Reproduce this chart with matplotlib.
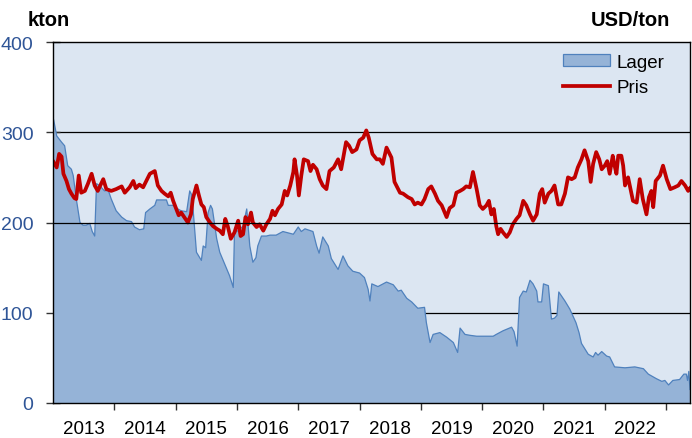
import matplotlib
matplotlib.use("Agg")
import matplotlib.pyplot as plt
from matplotlib.patches import Patch
from matplotlib.lines import Line2D
import numpy as np

plt.rcParams['font.family'] = ['Liberation Sans', 'DejaVu Sans']

# --- Data -------------------------------------------------------------
stock_t = [2013.00, 2013.01, 2013.06, 2013.14, 2013.19, 2013.24, 2013.30, 2013.33, 2013.38, 2013.44,
           2013.49, 2013.54, 2013.60, 2013.64, 2013.68, 2013.71, 2013.76, 2013.84, 2013.90, 2013.95,
           2014.03, 2014.12, 2014.20, 2014.28, 2014.33, 2014.41, 2014.48, 2014.51, 2014.58, 2014.66,
           2014.69, 2014.85, 2014.88, 2014.96, 2015.01, 2015.09, 2015.18, 2015.23, 2015.26, 2015.28,
           2015.34, 2015.42, 2015.45, 2015.49, 2015.53, 2015.57, 2015.60, 2015.67, 2015.72, 2015.80,
           2015.88, 2015.94, 2015.96, 2016.02, 2016.10, 2016.16, 2016.21, 2016.26, 2016.31, 2016.34,
           2016.40, 2016.48, 2016.54, 2016.64, 2016.75, 2016.92, 2017.00, 2017.05, 2017.11, 2017.24,
           2017.30, 2017.34, 2017.40, 2017.49, 2017.54, 2017.65, 2017.73, 2017.81, 2017.89, 2018.00,
           2018.08, 2018.14, 2018.17, 2018.20, 2018.30, 2018.44, 2018.55, 2018.63, 2018.68, 2018.77,
           2018.85, 2018.95, 2019.06, 2019.09, 2019.15, 2019.20, 2019.31, 2019.42, 2019.53, 2019.60,
           2019.64, 2019.72, 2019.80, 2019.91, 2020.01, 2020.18, 2020.23, 2020.34, 2020.48, 2020.52,
           2020.57, 2020.61, 2020.67, 2020.72, 2020.78, 2020.83, 2020.89, 2020.91, 2020.97, 2021.00,
           2021.08, 2021.13, 2021.18, 2021.22, 2021.25, 2021.35, 2021.43, 2021.53, 2021.58, 2021.62,
           2021.73, 2021.81, 2021.85, 2021.89, 2021.95, 2022.03, 2022.08, 2022.16, 2022.33, 2022.49,
           2022.63, 2022.71, 2022.84, 2022.93, 2022.98, 2023.04, 2023.11, 2023.22, 2023.29, 2023.33,
           2023.35, 2023.37, 2023.39]
stock_kton = [310, 314, 296, 289, 285, 263, 259, 252, 226, 200,
              197, 197, 199, 190, 185, 243, 241, 235, 236, 226,
              213, 206, 202, 201, 195, 192, 193, 211, 215, 219,
              225, 225, 219, 219, 216, 213, 212, 235, 231, 219,
              167, 158, 174, 172, 211, 219, 215, 182, 167, 154,
              141, 128, 189, 191, 196, 215, 174, 156, 161, 174,
              185, 185, 186, 186, 190, 187, 195, 190, 193, 190,
              174, 166, 184, 174, 160, 148, 163, 152, 146, 144,
              139, 126, 113, 132, 129, 134, 131, 124, 125, 116,
              112, 105, 106, 89, 67, 76, 78, 73, 67, 56,
              83, 76, 75, 74, 74, 74, 76, 80, 84, 79,
              63, 117, 124, 123, 136, 132, 124, 112, 112, 132,
              130, 93, 94, 97, 123, 113, 104, 89, 78, 66,
              54, 51, 56, 53, 57, 52, 51, 40, 39, 40,
              38, 32, 27, 24, 25, 20, 25, 26, 32, 32,
              25, 35, 15]

price_t = [2013.01, 2013.06, 2013.10, 2013.14, 2013.17, 2013.22, 2013.26, 2013.30, 2013.35, 2013.38,
           2013.42, 2013.46, 2013.52, 2013.57, 2013.63, 2013.68, 2013.73, 2013.82, 2013.87, 2013.95,
           2014.03, 2014.12, 2014.17, 2014.25, 2014.31, 2014.35, 2014.41, 2014.47, 2014.58, 2014.66,
           2014.71, 2014.77, 2014.82, 2014.88, 2014.92, 2014.96, 2015.01, 2015.05, 2015.09, 2015.16,
           2015.20, 2015.25, 2015.28, 2015.34, 2015.38, 2015.42, 2015.46, 2015.50, 2015.56, 2015.61,
           2015.67, 2015.72, 2015.77, 2015.81, 2015.85, 2015.90, 2015.96, 2016.02, 2016.06, 2016.10,
           2016.14, 2016.18, 2016.23, 2016.26, 2016.32, 2016.37, 2016.43, 2016.48, 2016.54, 2016.58,
           2016.62, 2016.67, 2016.73, 2016.78, 2016.82, 2016.87, 2016.92, 2016.94, 2016.98, 2017.01,
           2017.05, 2017.09, 2017.16, 2017.20, 2017.24, 2017.30, 2017.35, 2017.40, 2017.46, 2017.51,
           2017.58, 2017.65, 2017.70, 2017.78, 2017.83, 2017.88, 2017.95, 2018.00, 2018.06, 2018.11,
           2018.15, 2018.21, 2018.28, 2018.33, 2018.38, 2018.44, 2018.52, 2018.57, 2018.66, 2018.71,
           2018.79, 2018.85, 2018.90, 2018.95, 2019.01, 2019.06, 2019.12, 2019.17, 2019.23, 2019.28,
           2019.34, 2019.42, 2019.47, 2019.53, 2019.58, 2019.64, 2019.69, 2019.74, 2019.80, 2019.85,
           2019.91, 2019.96, 2020.01, 2020.07, 2020.11, 2020.15, 2020.19, 2020.23, 2020.26, 2020.30,
           2020.34, 2020.40, 2020.45, 2020.50, 2020.56, 2020.61, 2020.67, 2020.72, 2020.78, 2020.83,
           2020.89, 2020.94, 2020.98, 2021.02, 2021.08, 2021.13, 2021.18, 2021.24, 2021.29, 2021.35,
           2021.40, 2021.46, 2021.51, 2021.56, 2021.62, 2021.67, 2021.73, 2021.77, 2021.81, 2021.86,
           2021.91, 2021.95, 2022.00, 2022.04, 2022.08, 2022.13, 2022.16, 2022.19, 2022.22, 2022.27,
           2022.30, 2022.33, 2022.38, 2022.42, 2022.46, 2022.52, 2022.57, 2022.62, 2022.68, 2022.72,
           2022.76, 2022.79, 2022.83, 2022.90, 2022.95, 2023.01, 2023.07, 2023.14, 2023.20, 2023.25,
           2023.31, 2023.36, 2023.39]
price_usd = [267, 261, 276, 273, 254, 246, 237, 232, 227, 226,
             252, 233, 235, 243, 254, 241, 235, 248, 237, 235,
             237, 240, 233, 239, 246, 238, 242, 239, 254, 257,
             241, 235, 232, 229, 233, 224, 215, 208, 211, 204,
             200, 209, 226, 241, 230, 220, 217, 206, 200, 196,
             193, 191, 187, 204, 196, 182, 189, 202, 185, 187,
             206, 198, 211, 200, 195, 198, 191, 198, 204, 213,
             208, 215, 220, 235, 230, 241, 256, 270, 252, 230,
             252, 270, 268, 257, 264, 259, 248, 241, 237, 257,
             261, 270, 259, 289, 285, 278, 281, 291, 294, 302,
             294, 276, 270, 270, 265, 283, 272, 245, 233, 232,
             228, 226, 220, 222, 220, 226, 237, 240, 232, 224,
             219, 206, 216, 219, 233, 235, 237, 240, 239, 256,
             237, 219, 215, 219, 224, 209, 215, 196, 187, 193,
             189, 184, 189, 198, 204, 208, 224, 219, 209, 202,
             209, 232, 237, 222, 232, 235, 241, 220, 220, 232,
             250, 248, 250, 261, 270, 280, 268, 245, 265, 278,
             270, 259, 263, 268, 254, 274, 263, 254, 274, 274,
             263, 241, 250, 237, 224, 222, 248, 226, 209, 228,
             235, 217, 246, 252, 263, 248, 237, 239, 241, 246,
             241, 235, 238]

years = list(range(2013, 2023))
y_ticks = [0, 100, 200, 300, 400]

# --- Figure -----------------------------------------------------------
fig = plt.figure(figsize=(6.92, 4.39), dpi=100)
ax = fig.add_axes([53/692, 35/439, 637/692, 361/439])
ax.set_facecolor('#DCE6F2')

ax.fill_between(stock_t, stock_kton, 0, facecolor='#95B3D7', edgecolor='none', zorder=2)
ax.plot(stock_t, stock_kton, color='#4F81BD', lw=0.9, zorder=3)
ax.plot(price_t, price_usd, color='#C00000', lw=2.7, zorder=4, solid_joinstyle='round')

for yv in y_ticks[1:-1]:
    ax.axhline(yv, color='black', lw=0.9, zorder=5 if yv == 200 else 1.5)

ax.set_xlim(2013.0, 2023.39)
ax.set_ylim(0, 400)

ax.set_xticks([y + 1 for y in years])
ax.set_xticklabels([])
ax.set_xticks([y + 0.5 for y in years], minor=True)
ax.set_xticklabels([str(y) for y in years], minor=True, fontsize=13.5)
ax.tick_params(axis='x', which='major', direction='inout', length=10, width=1, color='#333333')
ax.tick_params(axis='x', which='minor', length=0, pad=12)

ax.set_yticks(y_ticks)
ax.set_yticklabels([str(v) for v in y_ticks], fontsize=14, color='#2F5597')
ax.tick_params(axis='y', direction='inout', length=10, width=1, pad=9, color='#333333')

for s in ax.spines.values():
    s.set_color('black')
    s.set_linewidth(1.0)
    s.set_zorder(6)

fig.text(28/692, 1 - 20/439, 'kton', fontsize=14.5, fontweight='bold', va='center', ha='left')
fig.text(670/692, 1 - 20/439, 'USD/ton', fontsize=14.5, fontweight='bold', va='center', ha='right')

handles = [Patch(facecolor='#95B3D7', edgecolor='#4F81BD', linewidth=0.9),
           Line2D([0], [0], color='#C00000', lw=2.7)]
fig.legend(handles, ['Lager', 'Pris'], loc='upper left', bbox_to_anchor=(563/692, 1 - 55/439),
           frameon=False, fontsize=13.5, handlelength=2.5, handleheight=0.6, handletextpad=0.35,
           labelspacing=0.45, borderpad=0, borderaxespad=0)

fig.savefig('out.png', dpi=100)
